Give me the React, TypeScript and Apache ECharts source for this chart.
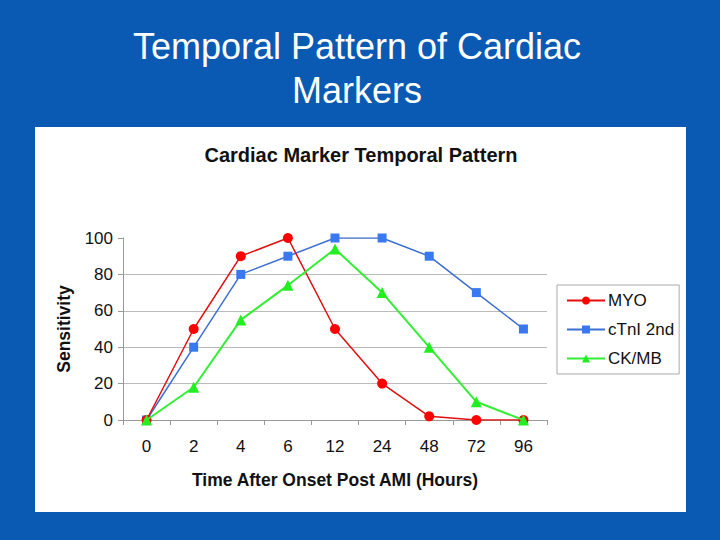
import React, { useEffect, useRef } from "react";
import * as echarts from "echarts";

const categories = ["0", "2", "4", "6", "12", "24", "48", "72", "96"];
const myo = [0, 50, 90, 100, 50, 20, 2, 0, 0];
const ctni = [0, 40, 80, 90, 100, 100, 90, 70, 50];
const ckmb = [0, 18, 55, 74, 94, 70, 40, 10, 0];
const seriesNames = ["MYO", "cTnI 2nd", "CK/MB"];

const FONT = "'Liberation Sans', Arial, sans-serif";

export default function App() {
  const ref = useRef<HTMLDivElement>(null);
  useEffect(() => {
    document.body.style.margin = "0";
    const chart = echarts.init(ref.current!, null, { renderer: "svg" });
    chart.setOption({
      animation: false,
      backgroundColor: "#0a5ab4",
      textStyle: { fontFamily: FONT },
      graphic: [
        {
          type: "rect",
          shape: { x: 35, y: 127, width: 651, height: 385 },
          style: { fill: "#ffffff" },
          z: -10,
        },
        {
          type: "text",
          x: 357,
          y: 68,
          style: {
            text: "Temporal Pattern of Cardiac\nMarkers",
            fill: "#ffffff",
            fontSize: 36,
            lineHeight: 44,
            fontFamily: FONT,
            align: "center",
            verticalAlign: "middle",
          },
        },
        {
          type: "text",
          x: 361,
          y: 155,
          style: {
            text: "Cardiac Marker Temporal Pattern",
            fill: "#111111",
            fontSize: 20,
            fontWeight: "bold",
            fontFamily: FONT,
            align: "center",
            verticalAlign: "middle",
          },
        },
      ],
      legend: {
        orient: "vertical",
        left: 557,
        top: 285,
        data: seriesNames,
        itemWidth: 38,
        itemHeight: 10,
        itemGap: 12,
        padding: [7, 5, 7, 9],
        borderColor: "#aaaaaa",
        borderWidth: 1,
        backgroundColor: "#ffffff",
        textStyle: { fontSize: 17, color: "#111", lineHeight: 17, padding: [0, 0, 0, -2] },
      },
      grid: { left: 123, right: 173, top: 238, bottom: 120 },
      xAxis: {
        type: "category",
        data: categories,
        boundaryGap: true,
        name: "Time After Onset Post AMI (Hours)",
        nameLocation: "middle",
        nameGap: 51,
        nameTextStyle: { fontSize: 17.5, fontWeight: "bold", color: "#111", fontFamily: FONT },
        axisLine: { lineStyle: { color: "#999999", width: 1 } },
        axisTick: { show: true, length: 5, lineStyle: { color: "#999999" }, alignWithLabel: false },
        axisLabel: { fontSize: 17, color: "#111", margin: 18, fontFamily: FONT },
      },
      yAxis: {
        type: "value",
        min: 0,
        max: 100,
        interval: 20,
        name: "Sensitivity",
        nameLocation: "middle",
        nameGap: 50,
        nameRotate: 90,
        nameTextStyle: { fontSize: 17.5, fontWeight: "bold", color: "#111", fontFamily: FONT },
        axisLine: { show: true, lineStyle: { color: "#999999", width: 1 } },
        axisTick: { show: true, length: 5, lineStyle: { color: "#999999" } },
        axisLabel: { fontSize: 17, color: "#111", margin: 10, fontFamily: FONT },
        splitLine: { show: true, showMaxLine: false, showMinLine: false, lineStyle: { color: "#bbbbbb", width: 1 } },
      },
      series: [
        {
          name: seriesNames[0],
          type: "line",
          data: myo,
          symbol: "circle",
          symbolSize: 10,
          itemStyle: { color: "#ff0000" },
          lineStyle: { color: "#e01010", width: 1.5 },
          z: 3,
        },
        {
          name: seriesNames[1],
          type: "line",
          data: ctni,
          symbol: "rect",
          symbolSize: 9,
          itemStyle: { color: "#3a78f0" },
          lineStyle: { color: "#3d6fd0", width: 1.5 },
          z: 2,
        },
        {
          name: seriesNames[2],
          type: "line",
          data: ckmb,
          symbol: "triangle",
          symbolSize: 11,
          itemStyle: { color: "#22ee22" },
          lineStyle: { color: "#33ee33", width: 2 },
          z: 4,
        },
      ],
    });
    return () => chart.dispose();
  }, []);
  return <div ref={ref} style={{ position: "fixed", left: 0, top: 0, width: 720, height: 540 }} />;
}
